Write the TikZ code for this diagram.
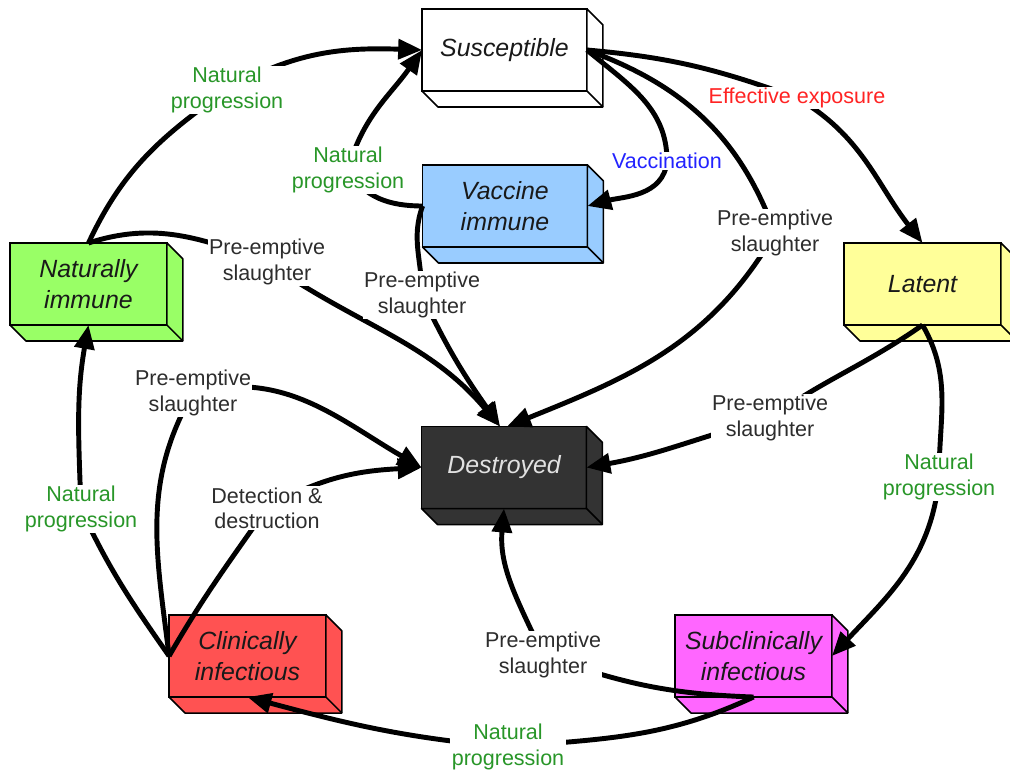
\documentclass[tikz,border=0pt]{standalone}
\usepackage{fontspec}
\setmainfont{Liberation Sans}
\usetikzlibrary{arrows.meta,calc}

\definecolor{susfill}{RGB}{255,255,255}
\definecolor{vacfill}{RGB}{153,204,255}
\definecolor{natfill}{RGB}{153,255,102}
\definecolor{latfill}{RGB}{255,255,153}
\definecolor{desfill}{RGB}{51,51,51}
\definecolor{clifill}{RGB}{255,82,82}
\definecolor{subfill}{RGB}{255,102,255}
\definecolor{desgray}{RGB}{225,225,225}
\definecolor{natgreen}{RGB}{40,150,40}
\definecolor{expred}{RGB}{255,35,35}
\definecolor{vacblue}{RGB}{35,35,255}
\definecolor{labgray}{RGB}{45,45,45}

\pgfdeclarelayer{front}
\pgfsetlayers{main,front}

\tikzset{
  state/.style={draw=black, line width=1.1pt, outer sep=0pt, inner sep=0pt,
    minimum width=3.92cm, minimum height=2.05cm, align=center,
    font=\fontsize{17.7}{21.5}\selectfont\itshape, text=black!90},
  wide/.style={minimum width=4.12cm},
  flow/.style={line width=3.5pt, -{Triangle[length=17pt,width=14pt]}},
  lbl/.style={fill=white, inner sep=1pt, align=center,
    font=\fontsize{15.3}{18}\selectfont, text=labgray},
}

\begin{document}
\begin{tikzpicture}[x=0.025cm, y=-0.025cm]
    \useasboundingbox (0,0) rectangle (1010,772);

    % front faces of the states
    \node[state,wide,fill=susfill] (sus) at (504.5,50) {Susceptible};
    \node[state,wide,fill=vacfill] (vac) at (505,206) {Vaccine\\immune};
    \node[state,fill=natfill] (nat) at (88.5,284) {Naturally\\immune};
    \node[state,fill=latfill] (lat) at (922.5,284) {Latent};
    \node[state,wide,fill=desfill,text=desgray] (des) at (504,467.5) {Destroyed};
    \node[state,fill=clifill] (cli) at (247.5,656) {Clinically\\infectious};
    \node[state,fill=subfill] (sub) at (753.5,656) {Subclinically\\infectious};

    % depth of the boxes (right and bottom faces)
    \foreach \nm/\col in {sus/susfill,vac/vacfill,nat/natfill,lat/latfill,des/desfill,cli/clifill,sub/subfill} {
        \filldraw[fill=\col, line width=1.1pt, line join=round]
            (\nm.north east) -- ++(16,16) -- ($(\nm.south east)+(16,16)$)
            -- ($(\nm.south west)+(16,16)$) -- (\nm.south west) -- (\nm.south east) -- cycle;
        \draw[line width=1.1pt] (\nm.south east) -- ++(16,16);
    }

    % transition labels sit above the arrows
    \begin{pgfonlayer}{front}
        \node[lbl,text=natgreen] (np1) at (227,90) {Natural\\progression};
        \node[lbl] (ps1) at (267,262) {Pre-emptive\\slaughter};
        \node[lbl,text=natgreen] (np2) at (348,170) {Natural\\progression};
        \node[lbl] (ps2) at (422,295) {Pre-emptive\\slaughter};
        \node[lbl,text=vacblue] (vc) at (667,161) {Vaccination};
        \node[lbl] (ps3) at (775,233) {Pre-emptive\\slaughter};
        \node[lbl,text=expred] (ee) at (797,98) {Effective exposure};
        \node[lbl] (ps4) at (770,418) {Pre-emptive\\slaughter};
        \node[lbl,text=natgreen] (np3) at (939,477) {Natural\\progression};
        \node[lbl] (ps5) at (543,655) {Pre-emptive\\slaughter};
        \node[lbl,text=natgreen] (np4) at (508,747) {Natural\\progression};
        \node[lbl,text=natgreen] (np5) at (81,509) {Natural\\progression};
        \node[lbl] (ps6) at (193,393) {Pre-emptive\\slaughter};
        \node[lbl] (dd) at (267,508) {Detection \&\\destruction};
    \end{pgfonlayer}

    % from naturally immune
    \draw[flow] (nat.north) to[out=65,in=215] (np1.center) to[out=30,in=178] (sus.west);
    \draw[flow] (nat.north) to[out=18,in=160] (ps1.center) to[out=-35,in=130] ($(des.north)+(-4,0)$);
    % from vaccine immune
    \draw[flow] (vac.west) to[out=180,in=-60] (np2.center) to[out=75,in=235] (sus.west);
    \draw[flow] (vac.west) to[out=250,in=90] (ps2.center) to[out=-65,in=125] ($(des.north)+(-4,0)$);
    % from susceptible
    \draw[flow] (sus.east) to[out=-40,in=90] (vc.center) to[out=-95,in=15] (vac.east);
    \draw[flow] (sus.east) to[out=-20,in=110] (ps3.center) to[out=-120,in=22] ($(des.north)+(3,0)$);
    \draw[flow] (sus.east) to[out=-5,in=160] (ee.center) to[out=-30,in=128] (lat.north);
    % from latent
    \draw[flow] (lat.south) to[out=215,in=35] (ps4.center) to[out=195,in=10] (des.east);
    \draw[flow] (lat.south) to[out=-60,in=90] (np3.center) to[out=-95,in=47] (sub.east);
    % from subclinically infectious
    \draw[flow] (sub.south) to[out=178,in=-20] (ps5.center) to[out=115,in=-95] (des.south);
    \draw[flow] (sub.south) to[out=205,in=5] (np4.center) to[out=175,in=-15] (cli.south);
    % from clinically infectious
    \draw[flow] (cli.west) to[out=125,in=-65] (np5.center) to[out=92,in=-100] (nat.south);
    \draw[flow] (cli.west) to[out=97,in=240] (ps6.center) to[out=15,in=150] (des.west);
    \draw[flow] (cli.west) to[out=60,in=-125] (dd.center) to[out=30,in=183] (des.west);

\end{tikzpicture}
\end{document}
